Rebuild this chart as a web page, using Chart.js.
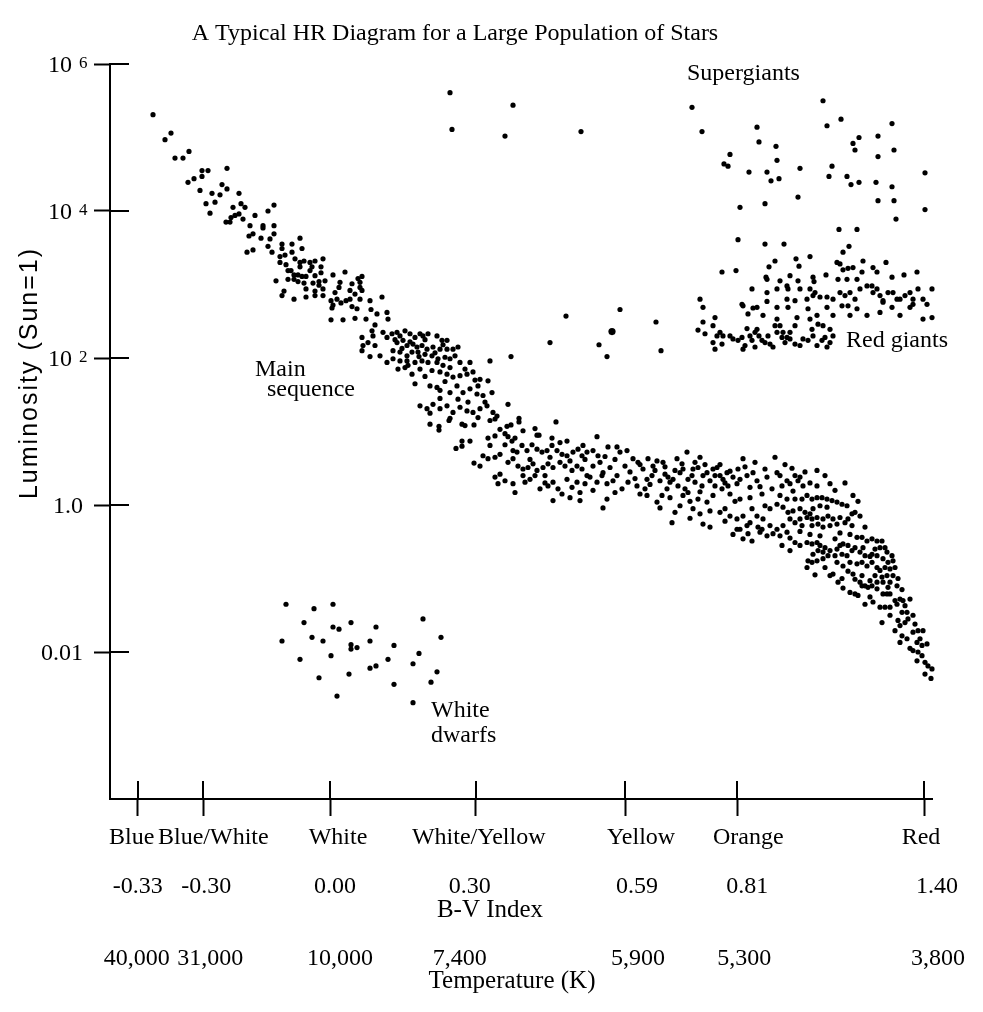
<!DOCTYPE html>
<html>
<head>
<meta charset="utf-8">
<title>HR Diagram</title>
<script src="https://cdn.jsdelivr.net/npm/chart.js@4.4.1/dist/chart.umd.min.js"></script>
<style>
  html, body { margin: 0; padding: 0; background: #fff; }
</style>
</head>
<body>
<canvas id="hrChart" width="983" height="1012"></canvas>
<script>
// Axis ticks: x is the position along the colour axis, y is log10(L / Lsun)
const colourTicks = [2.77, 9.33, 22.0, 36.57, 51.5, 62.73, 81.4];
const colourNames = ['Blue', 'Blue/White', 'White', 'White/Yellow', 'Yellow', 'Orange', 'Red'];
const bvIndex = ['-0.33', '-0.30', '0.00', '0.30', '0.59', '0.81', '1.40'];
const temperatures = ['40,000', '31,000', '10,000', '7,400', '5,900', '5,300', '3,800'];
const lumTicks = [-2, 0, 2, 4, 6];
const lumLabels = ['0.01', '1.0', '10^2', '10^4', '10^6'];

// Stars, [colour position, log10 luminosity]
const mainSequence = [
  [4.3,5.31],[6.1,5.06],[5.5,4.97],[7.9,4.81],[6.5,4.72],[7.3,4.72],[9.2,4.55],[9.8,4.55],[11.7,4.58],[8.4,4.44],
  [9.2,4.47],[7.8,4.39],[11.2,4.36],[11.7,4.30],[9.0,4.28],[10.2,4.24],[11.0,4.22],[12.9,4.24],[9.6,4.10],[13.1,4.10],
  [13.5,4.05],[12.3,4.05],[16.4,4.08],[10.0,3.97],[12.9,3.96],[12.5,3.94],[12.1,3.91],[13.3,3.89],[11.6,3.85],[12.0,3.85],
  [14.5,3.94],[15.8,4.00],[15.3,3.80],[15.3,3.77],[16.4,3.80],[13.9,3.66],[14.3,3.69],[15.1,3.63],[16.4,3.69],[13.7,3.44],
  [14.3,3.47],[15.8,3.52],[16.2,3.44],[17.2,3.55],[17.2,3.49],[18.2,3.55],[19.0,3.63],[19.2,3.49],[18.2,3.44],[17.0,3.38],
  [17.0,3.30],[17.6,3.27],[19.0,3.30],[19.0,3.24],[19.4,3.32],[20.0,3.30],[20.5,3.32],[21.3,3.35],[20.2,3.24],[21.1,3.24],
  [17.8,3.19],[18.1,3.19],[20.0,3.19],[21.1,3.16],[18.4,3.13],[18.8,3.13],[19.2,3.11],[19.6,3.11],[17.8,3.07],[18.4,3.07],
  [18.8,3.04],[19.4,3.02],[20.3,3.02],[20.9,3.04],[20.9,2.99],[16.6,3.05],[19.6,2.94],[20.5,2.91],[21.3,2.94],[17.4,2.91],
  [17.2,2.85],[19.6,2.83],[20.5,2.85],[21.3,2.85],[18.4,2.80],
  [10.5,4.12],[14.0,3.80],[16.0,3.62],[18.5,3.35],[20.5,3.12],[21.5,3.05],[17.5,3.40],
  [22.3,3.13],[23.5,3.17],[24.8,3.08],[25.2,3.11],[25.0,3.03],[23.0,3.03],[22.9,2.96],[24.2,3.01],[22.5,2.89],[24.0,2.92],
  [25.0,2.96],[25.2,2.92],[22.1,2.78],[22.3,2.72],[22.2,2.68],[22.7,2.80],[23.1,2.75],[23.6,2.78],[24.0,2.80],[24.2,2.70],
  [24.5,2.87],[25.0,2.80],[24.7,2.67],[26.0,2.78],[26.1,2.66],[27.2,2.83],[27.7,2.62],[27.8,2.53],[26.7,2.60],[25.6,2.53],
  [24.5,2.54],[23.3,2.52],[22.1,2.52],[26.5,2.45],[26.2,2.37],[27.3,2.35],[25.2,2.28],[25.3,2.17],[25.8,2.21],[26.3,2.30],
  [26.5,2.17],[26.0,2.02],[25.2,2.10],[27.0,2.03],[27.7,1.94],[27.7,2.28],
  [28.2,2.33],[28.7,2.35],[29.0,2.30],[29.5,2.37],[30.0,2.33],[30.5,2.28],[31.0,2.33],[31.3,2.30],[31.8,2.33],[32.7,2.30],
  [33.2,2.24],[33.7,2.24],[28.7,2.21],[29.3,2.24],[29.7,2.17],[30.3,2.19],[30.7,2.15],[31.2,2.17],[31.7,2.12],[32.3,2.15],
  [33.0,2.12],[33.7,2.12],[34.3,2.12],[34.8,2.15],[28.3,2.10],[29.0,2.08],[29.7,2.03],[30.2,2.08],[30.8,2.08],[31.5,2.05],
  [32.2,2.03],[32.8,1.99],[33.5,2.01],[34.0,1.99],[28.3,1.99],[29.0,1.96],[29.7,1.96],[30.5,1.94],[31.2,1.96],[31.8,1.94],
  [32.7,1.94],[33.3,1.90],[34.0,1.87],[35.0,1.94],[36.0,1.94],[38.0,1.96],[28.8,1.85],[29.5,1.87],[30.2,1.78],[31.0,1.85],
  [32.2,1.83],[33.0,1.81],[33.7,1.78],[34.3,1.74],[35.0,1.76],[35.7,1.78],[36.3,1.81],[37.0,1.71],[37.8,1.69],[30.5,1.65],
  [32.0,1.62],[32.7,1.60],[33.0,1.56],[34.0,1.53],[34.7,1.62],[35.3,1.53],[36.0,1.58],[36.7,1.51],[37.3,1.49],[38.2,1.53],
  [31.0,1.35],[31.7,1.31],[32.3,1.37],[33.0,1.31],[33.7,1.35],[34.3,1.26],[35.0,1.33],[35.7,1.28],[36.3,1.26],[37.0,1.31],
  [37.7,1.35],[38.3,1.26],[38.7,1.21],
  [28.5,2.25],[29.2,2.13],[30.0,2.22],[30.9,2.02],[31.5,2.25],[32.5,2.07],[33.3,2.18],[34.5,2.03],[35.5,1.85],[36.5,1.70],
  [29.8,1.90],[31.5,1.75],[33.5,1.68],[34.8,1.44],[35.8,1.40],[33.0,1.45],[36.8,1.62],[37.5,1.40],[32.0,1.25],[34.0,1.18],
  [39.8,1.37],[40.9,1.18],[40.9,1.13],[44.6,1.13],[42.5,1.04],[42.9,0.95],
  [32.0,1.10],[32.9,1.07],[32.9,1.02],[33.9,1.15],[35.2,1.10],[35.5,1.08],[36.4,1.09],[36.8,1.19],[38.0,1.15],[38.5,1.17],
  [39.0,1.03],[39.7,1.07],[40.1,1.09],[37.8,0.91],[38.5,0.94],[39.5,0.97],[39.8,0.93],[40.2,0.87],[40.5,0.91],[41.3,1.01],
  [42.7,0.95],[44.2,0.91],[45.7,0.87],[48.7,0.93],[35.2,0.87],[36.0,0.87],[35.2,0.80],[34.6,0.77],[38.0,0.81],[39.5,0.82],
  [40.3,0.74],[40.7,0.72],[41.2,0.81],[41.7,0.74],[42.2,0.82],[42.7,0.76],[43.2,0.72],[43.7,0.74],[44.2,0.81],[44.7,0.74],
  [45.2,0.69],[45.7,0.67],[46.3,0.72],[46.8,0.76],[47.3,0.81],[47.2,0.67],[47.7,0.72],[48.3,0.74],[48.8,0.67],[49.8,0.79],
  [50.7,0.79],[51.0,0.72],[51.7,0.74],[36.4,0.57],[37.0,0.53],[37.3,0.67],[37.8,0.63],[38.5,0.65],[39.0,0.69],[39.8,0.58],
  [40.3,0.63],[40.8,0.53],[41.3,0.49],[41.8,0.51],[42.3,0.56],[42.7,0.47],[43.3,0.51],[43.8,0.56],[44.3,0.51],[45.0,0.58],
  [45.5,0.53],[46.2,0.47],[46.7,0.53],[47.2,0.49],[47.7,0.40],[48.3,0.53],[49.0,0.58],[49.3,0.44],[50.0,0.51],[50.7,0.40],
  [51.5,0.53],[38.5,0.38],[39.0,0.42],[39.5,0.33],[38.8,0.29],[40.3,0.29],[40.5,0.17],[41.3,0.40],[41.5,0.31],[42.0,0.35],
  [42.5,0.40],[43.0,0.22],[43.5,0.40],[43.8,0.26],[44.3,0.31],[44.8,0.22],[45.2,0.15],[45.7,0.35],[46.2,0.24],[46.7,0.31],
  [47.0,0.17],[47.5,0.29],[48.0,0.38],[48.7,0.31],[49.2,0.40],[49.7,0.29],[50.3,0.33],[50.5,0.17],[51.2,0.22],[51.8,0.31],
  [44.3,0.06],[47.0,0.06],[49.3,-0.04],[49.7,0.08],
  [45.0,0.85],[46.0,0.60],[47.5,0.62],[49.5,0.66],[50.5,0.62],[44.0,0.65],[42.0,0.62],[43.5,0.30],[46.0,0.10],[48.3,0.20],
  [52.3,0.63],[52.8,0.58],[53.3,0.49],[53.7,0.35],[54.2,0.40],[54.3,0.53],[53.8,0.63],[54.7,0.60],[55.3,0.58],[55.5,0.42],
  [55.8,0.38],[56.0,0.31],[56.3,0.35],[56.7,0.63],[56.8,0.26],[57.0,0.44],[57.3,0.49],[57.7,0.72],[57.8,0.35],[58.2,0.40],
  [58.5,0.31],[58.3,0.49],[58.8,0.51],[59.0,0.65],[59.2,0.26],[59.3,0.40],[59.7,0.44],[60.0,0.33],[60.3,0.49],[60.5,0.26],
  [60.7,0.51],[61.0,0.40],[61.2,0.22],[61.3,0.35],[61.7,0.44],[61.8,0.26],[62.0,0.15],[62.3,0.38],[62.7,0.29],[62.8,0.49],
  [63.3,0.63],[63.7,0.40],[64.0,0.24],[64.3,0.44],[64.7,0.33],[57.0,-0.01],[57.3,0.13],[57.8,0.17],[58.3,-0.05],[58.8,0.08],
  [59.3,-0.26],[59.7,0.04],[60.3,0.13],[61.0,-0.10],[61.5,-0.05],[62.0,-0.15],[62.7,-0.19],[63.3,-0.15],[64.0,-0.24],[64.7,-0.15],
  [56.2,-0.24],[55.7,0.22],[55.2,0.13],[54.7,0.04],[53.7,0.13],[52.7,0.26],[53.0,0.15],[55.0,-0.04],[63.3,-0.46],[64.2,-0.49],
  [63.8,-0.39],[63.0,-0.33],[62.7,-0.33],[63.7,-0.28],[64.8,-0.30],
  [52.0,0.45],[52.5,0.36],[53.0,0.55],[53.5,0.22],[54.0,0.28],[54.5,0.47],[55.0,0.33],[55.5,0.52],[56.0,0.10],[56.5,0.47],
  [57.2,0.56],[57.5,0.22],[58.0,0.05],[58.5,0.58],[59.0,0.18],[59.5,0.55],[60.0,-0.08],[60.5,0.40],[61.0,0.55],[61.5,0.30],
  [62.0,0.46],[62.5,0.05],[63.0,0.35],[63.5,0.52],[64.0,0.10],[64.5,0.58],[65.0,0.25],[58.0,-0.18],[60.0,-0.30],[61.5,-0.22],
  [62.3,-0.40],[64.2,-0.05],[59.0,-0.12],[56.5,-0.10],[63.0,0.08],
  [66.5,0.65],[66.7,0.44],[65.5,0.49],[65.7,0.38],[67.0,0.40],[67.2,0.26],[67.7,0.33],[68.0,0.29],[68.5,0.40],[68.8,0.33],
  [69.0,0.38],[69.3,0.26],[68.3,0.19],[67.0,0.13],[67.7,0.08],[68.5,0.08],[69.2,0.08],[69.7,0.13],[70.2,0.08],[70.7,0.10],
  [71.2,0.10],[71.7,0.08],[72.2,0.06],[72.7,0.04],[73.2,0.01],[73.7,-0.01],[74.3,0.13],[74.2,-0.12],[74.5,-0.10],[70.7,0.47],
  [70.7,0.26],[72.0,0.29],[71.7,-0.03],[71.0,-0.01],[70.3,-0.05],[70.0,-0.12],[69.5,-0.10],[69.0,-0.05],[68.3,-0.08],[67.8,-0.10],
  [67.3,-0.03],[66.7,0.01],[66.0,-0.05],[65.5,-0.01],[65.3,-0.19],[66.0,-0.28],[66.7,-0.33],[67.3,-0.28],[68.0,-0.19],[68.5,-0.24],
  [69.0,-0.19],[69.7,-0.17],[70.2,-0.19],[70.7,-0.17],[71.3,-0.19],[71.8,-0.15],[72.3,-0.19],[73.0,-0.17],[73.5,-0.24],[73.8,-0.19],
  [74.2,-0.28],[72.7,-0.26],[72.0,-0.28],[71.3,-0.30],[70.8,-0.26],[70.2,-0.28],[69.2,-0.28],[66.3,-0.39],[67.0,-0.42],[67.7,-0.37],
  [67.2,-0.55],[68.0,-0.62],[68.5,-0.51],[69.0,-0.55],[65.0,-0.37],[65.7,-0.42],[65.2,-0.33],
  [65.2,0.15],[66.2,0.22],[67.5,0.55],[68.2,0.50],[69.5,0.45],[70.0,0.30],[71.5,0.40],[72.5,0.20],[73.5,0.30],[74.8,0.05],
  [75.0,-0.15],[75.5,-0.30],[74.0,-0.40],[73.0,-0.38],[71.0,-0.42],[70.0,-0.40],[69.0,-0.36],[68.0,-0.45],
  [69.7,-0.51],[70.2,-0.53],[70.7,-0.51],[71.0,-0.55],[71.5,-0.58],[72.0,-0.62],[72.5,-0.46],[72.7,-0.60],[73.0,-0.55],[73.3,-0.53],
  [73.8,-0.55],[74.2,-0.62],[74.5,-0.58],[75.0,-0.64],[75.3,-0.58],[75.7,-0.49],[76.2,-0.46],[76.7,-0.49],[77.2,-0.49],[77.0,-0.58],
  [77.5,-0.58],[77.7,-0.64],[78.2,-0.69],[75.2,-0.44],[74.7,-0.44],[75.5,-0.69],[76.2,-0.67],[76.7,-0.69],[77.3,-0.73],[77.8,-0.78],
  [78.3,-0.76],[73.7,-0.69],[73.2,-0.67],[72.5,-0.69],[71.8,-0.69],[71.3,-0.64],[70.8,-0.62],[70.3,-0.67],[69.8,-0.76],[70.2,-0.78],
  [70.7,-0.76],[71.3,-0.73],[72.7,-0.78],[73.3,-0.83],[74.0,-0.78],[74.7,-0.80],[75.2,-0.78],[75.7,-0.83],[76.2,-0.78],[76.7,-0.85],
  [77.0,-0.89],[77.5,-0.85],[78.0,-0.87],[78.3,-0.96],[77.7,-0.96],[77.2,-0.98],[76.5,-0.96],[76.0,-1.03],[76.7,-1.05],[77.3,-1.05],
  [78.0,-1.05],[78.7,-1.10],[69.7,-0.85],[72.3,-0.94],[72.0,-0.96],[73.2,-1.00],[74.3,-0.94],[74.5,-1.01],[75.2,-0.96],[75.2,-1.10],
  [75.5,-1.10],[75.8,-1.12],[76.2,-1.10],[76.7,-1.14],[77.3,-1.21],[77.7,-1.21],[78.0,-1.21],[73.3,-1.13],[74.0,-1.19],[74.5,-1.21],
  [74.8,-1.23],[75.5,-1.35],[76.3,-1.32],[77.0,-1.39],[77.5,-1.39],[78.0,-1.39],[78.5,-1.30],[78.7,-1.35],[79.0,-1.28],[79.3,-1.30],
  [79.5,-1.37],[80.0,-1.28],[79.2,-1.46],[79.7,-1.46],[77.2,-1.60],[78.5,-1.71],[78.8,-1.57],[79.0,-1.64],[79.8,-1.55],[79.2,-1.78],
  [79.7,-1.82],[80.3,-1.73],[80.8,-1.71],[81.3,-1.71],[80.7,-1.87],[81.2,-1.91],[81.7,-1.89],[80.3,-1.98],[80.8,-2.00],[80.7,-2.12],
  [81.2,-2.05],[81.5,-2.14],[81.8,-2.19],[82.2,-2.23],[82.1,-2.36],[79.0,-1.87],[81.0,-1.82],
  [76.0,-0.70],[76.5,-0.60],[78.5,-0.85],[78.8,-1.00],[79.2,-1.15],[77.8,-1.12],[76.0,-1.25],[75.0,-1.05],[73.8,-0.90],[72.8,-1.05],
  [71.5,-0.85],[70.5,-0.95],[79.5,-1.60],[80.3,-1.50],[80.0,-1.95],[81.5,-2.30],[80.5,-1.62],[78.0,-1.50]
];

const subgiants = [
  [45.6,2.57],[51.0,2.66],[54.6,2.49],[48.9,2.18],[55.1,2.10],[49.7,2.02],[44.0,2.21],[40.1,2.02]
];
const brightSubgiant = [[50.2,2.36]];

const redGiants = [
  [61.2,3.17],[62.6,3.19],[66.5,3.32],[68.6,3.35],[70.0,3.38],[68.9,3.25],[65.9,3.24],[65.6,3.10],[65.7,3.07],[67.0,3.05],
  [66.7,2.94],[67.7,2.98],[67.8,2.94],[68.0,3.12],[68.8,3.05],[69.0,2.94],[70.3,3.10],[70.4,3.04],[71.6,3.13],[72.7,3.30],
  [73.0,3.28],[73.3,3.20],[73.8,3.22],[74.3,3.23],[75.3,3.32],[76.3,3.23],[77.6,3.30],[72.8,3.07],[73.7,3.07],[74.7,3.07],
  [75.2,3.17],[76.7,3.17],[78.2,3.10],[79.4,3.13],[80.7,3.17],[82.5,3.10],[83.9,2.96],[64.2,2.94],[59.0,2.80],[59.3,2.69],
  [63.2,2.73],[63.3,2.71],[64.7,2.69],[63.8,2.60],[64.3,2.68],[65.7,2.89],[65.7,2.77],[66.7,2.69],[67.7,2.80],[67.8,2.69],
  [65.3,2.58],[66.7,2.53],[68.5,2.78],[68.7,2.55],[68.5,2.44],[69.7,2.80],[69.8,2.67],[70.0,2.53],[70.7,2.58],[70.5,2.89],
  [70.0,2.94],[70.3,2.85],[71.0,2.83],[71.7,2.83],[72.3,2.80],[73.0,2.89],[73.5,2.85],[74.0,2.89],[74.5,2.80],[75.0,2.94],
  [75.7,2.98],[76.2,2.98],[76.3,2.89],[76.7,2.94],[77.0,2.85],[77.3,2.78],[77.8,2.89],[78.3,2.89],[78.7,2.80],[79.0,2.80],
  [79.5,2.85],[80.0,2.89],[80.3,2.80],[80.8,2.94],[81.3,2.80],[81.7,2.73],[82.2,2.94],[83.3,2.87],[83.5,2.71],[84.0,2.96],
  [82.2,2.55],[81.3,2.53],[71.7,2.69],[72.3,2.58],[73.2,2.71],[73.8,2.71],[74.0,2.58],[74.7,2.67],[75.7,2.58],[77.0,2.62],
  [77.3,2.76],[78.2,2.69],[79.0,2.58],[80.0,2.69],[80.3,2.73],
  [58.8,2.38],[59.5,2.33],[59.3,2.49],[60.3,2.44],[60.5,2.55],[60.3,2.21],[60.7,2.30],[61.0,2.35],[61.3,2.30],[61.2,2.19],
  [62.0,2.30],[62.3,2.26],[62.8,2.24],[63.2,2.28],[63.5,2.17],[63.7,2.40],[64.0,2.30],[64.2,2.24],[64.5,2.35],[64.7,2.39],
  [64.9,2.30],[65.2,2.24],[65.5,2.21],[65.8,2.30],[66.0,2.19],[66.5,2.44],[66.7,2.35],[67.0,2.44],[67.2,2.28],[67.3,2.35],
  [67.5,2.21],[67.7,2.28],[68.0,2.35],[68.5,2.19],[69.0,2.17],[69.3,2.26],[69.8,2.24],[70.2,2.39],[70.3,2.30],[70.7,2.17],
  [71.2,2.24],[71.5,2.28],[71.7,2.15],[72.0,2.21],[72.3,2.30],[70.8,2.46],[71.3,2.44],[72.0,2.39],[60.5,2.12],[63.3,2.12],
  [64.5,2.15],[66.3,2.15],[68.0,2.26]
];

const supergiants = [
  [34.0,5.61],[34.2,5.11],[40.3,5.44],[39.5,5.02],[47.1,5.08],[58.2,5.41],[59.2,5.08],[64.7,5.14],[64.9,4.94],[66.6,4.88],
  [62.0,4.77],[66.7,4.69],[61.4,4.64],[61.8,4.61],[63.9,4.53],[65.7,4.53],[66.1,4.41],[66.9,4.44],[69.0,4.58],[68.8,4.19],
  [65.5,4.10],[63.0,4.05],[71.3,5.50],[71.7,5.16],[73.1,5.25],[74.3,4.92],[74.5,4.83],[74.9,5.00],[72.2,4.61],[71.9,4.47],
  [73.7,4.47],[74.1,4.36],[74.9,4.39],[76.8,5.02],[76.8,4.74],[78.2,5.19],[78.4,4.83],[76.6,4.39],[78.2,4.33],[76.8,4.14],
  [78.4,4.14],[78.6,3.89],[81.5,4.52],[81.5,4.02],[84.2,4.61],[84.5,4.27],[72.9,3.75],[74.7,3.75],[73.9,3.52],[73.3,3.44],
  [62.8,3.61],[65.5,3.55],[67.4,3.55]
];

const whiteDwarfs = [
  [17.6,-1.35],[20.4,-1.41],[22.3,-1.35],[19.4,-1.60],[22.3,-1.66],[22.9,-1.69],[24.1,-1.60],[26.6,-1.66],[31.3,-1.55],[17.2,-1.85],
  [20.2,-1.80],[21.3,-1.85],[24.1,-1.90],[24.1,-1.96],[24.7,-1.94],[26.0,-1.85],[28.4,-1.91],[33.1,-1.80],[19.0,-2.10],[22.1,-2.05],
  [27.8,-2.10],[26.0,-2.22],[26.6,-2.19],[30.3,-2.16],[30.9,-2.02],[32.7,-2.27],[20.9,-2.35],[23.9,-2.30],[28.4,-2.44],[32.1,-2.41],
  [22.7,-2.60],[30.3,-2.69]
];

// Text labels anchored in data space
const annotations = [
  ['Supergiants', 57.7, 5.78],
  ['Red giants', 73.6, 2.15],
  ['Main', 14.5, 1.76],
  ['sequence', 15.7, 1.48],
  ['White', 32.1, -2.88],
  ['dwarfs', 32.1, -3.22]
];

const chartTitle = 'A Typical HR Diagram for a Large Population of Stars';
const serif = '"Liberation Serif", "Times New Roman", Times, serif';
const sans = '"Liberation Sans", Arial, Helvetica, sans-serif';

// small nudges of the label rows relative to their tick (px), as laid out in the original
const colourNudge = [-6, 10, 8, 3, 16, 11, -3];
const bvNudge = [0, 3, 5, -6, 12, 10, 13];
const tempNudge = [-1, 7, 10, -16, 13, 7, 14];

function toPoints(list) {
  return list.map(([x, y]) => ({ x: x, y: y }));
}

// Texte, demi-graduations internes et titres
const hrText = {
  id: 'hrText',
  afterDraw(chart) {
    const ctx = chart.ctx;
    const area = chart.chartArea;
    const xs = chart.scales.x;
    const ys = chart.scales.y;
    ctx.save();

    // inner half of the tick marks (the outer half is drawn by the axes)
    ctx.strokeStyle = '#000';
    ctx.lineWidth = 2;
    ctx.beginPath();
    xs.ticks.forEach(t => {
      const px = Math.round(xs.getPixelForValue(t.value));
      ctx.moveTo(px, area.bottom);
      ctx.lineTo(px, area.bottom - 18);
    });
    ys.ticks.forEach(t => {
      const py = Math.round(ys.getPixelForValue(t.value));
      ctx.moveTo(area.left, py);
      ctx.lineTo(area.left + 19, py);
    });
    ctx.stroke();

    ctx.fillStyle = '#000';
    ctx.textBaseline = 'alphabetic';

    // title
    ctx.font = '24px ' + serif;
    ctx.textAlign = 'center';
    ctx.fillText(chartTitle, 455, 40);

    // y tick labels, powers of ten with a raised exponent
    ys.ticks.forEach((t, i) => {
      const py = ys.getPixelForValue(t.value);
      const parts = lumLabels[i].split('^');
      ctx.font = '24px ' + serif;
      if (parts.length > 1) {
        ctx.textAlign = 'right';
        ctx.fillText(parts[0], area.left - 38, py + 8);
        ctx.font = '17px ' + serif;
        ctx.textAlign = 'left';
        ctx.fillText(parts[1], area.left - 31, py + 4);
      } else {
        ctx.textAlign = 'right';
        ctx.fillText(parts[0], area.left - 27, py + 8);
      }
    });

    // x label rows
    ctx.font = '24px ' + serif;
    ctx.textAlign = 'center';
    colourTicks.forEach((v, i) => {
      const px = xs.getPixelForValue(v);
      ctx.fillText(colourNames[i], px + colourNudge[i], area.bottom + 45);
      ctx.fillText(bvIndex[i], px + bvNudge[i], area.bottom + 94);
      ctx.fillText(temperatures[i], px + tempNudge[i], area.bottom + 166);
    });
    const mid = (area.left + area.right) / 2;
    ctx.font = '25px ' + serif;
    ctx.fillText('B-V Index', mid - 31, area.bottom + 118);
    ctx.fillText('Temperature (K)', mid - 9, area.bottom + 189);

    // region annotations
    ctx.font = '24px ' + serif;
    ctx.textAlign = 'left';
    annotations.forEach(([text, vx, vy]) => {
      ctx.fillText(text, xs.getPixelForValue(vx), ys.getPixelForValue(vy));
    });

    // y axis title
    ctx.translate(30, 373);
    ctx.rotate(-Math.PI / 2);
    ctx.font = '25px ' + sans;
    ctx.letterSpacing = '2px';
    ctx.textAlign = 'center';
    ctx.textBaseline = 'middle';
    ctx.fillText('Luminosity (Sun=1)', 0, 0);

    ctx.restore();
  }
};

const dotStyle = {
  backgroundColor: '#000',
  borderWidth: 0,
  pointRadius: 2.6,
  pointHoverRadius: 2.6,
  clip: false
};

const hrChart = new Chart(document.getElementById('hrChart'), {
  type: 'scatter',
  data: {
    datasets: [
      Object.assign({ label: 'Main sequence', data: toPoints(mainSequence) }, dotStyle),
      Object.assign({ label: 'Subgiants', data: toPoints(subgiants) }, dotStyle),
      Object.assign({ label: 'Bright subgiant', data: toPoints(brightSubgiant) }, dotStyle, { pointRadius: 3.6 }),
      Object.assign({ label: 'Red giants', data: toPoints(redGiants) }, dotStyle),
      Object.assign({ label: 'Supergiants', data: toPoints(supergiants) }, dotStyle),
      Object.assign({ label: 'White dwarfs', data: toPoints(whiteDwarfs) }, dotStyle)
    ]
  },
  options: {
    responsive: false,
    animation: false,
    layout: { padding: { top: 64, right: 51, bottom: 0, left: 0 } },
    plugins: {
      legend: { display: false },
      title: { display: false },
      tooltip: { enabled: false }
    },
    scales: {
      x: {
        type: 'linear',
        min: 0,
        max: 82.2,
        afterBuildTicks: s => { s.ticks = colourTicks.map(v => ({ value: v })); },
        afterFit: s => { s.height = 213; },
        ticks: { display: false },
        grid: { drawOnChartArea: false, drawTicks: true, tickLength: 17, tickWidth: 2, tickColor: '#000' },
        border: { display: true, color: '#000', width: 2 }
      },
      y: {
        type: 'linear',
        min: -4,
        max: 6,
        afterBuildTicks: s => { s.ticks = lumTicks.map(v => ({ value: v })); },
        afterFit: s => { s.width = 110; },
        ticks: { display: false },
        grid: { drawOnChartArea: false, drawTicks: true, tickLength: 16, tickWidth: 2, tickColor: '#000' },
        border: { display: true, color: '#000', width: 2 }
      }
    }
  },
  plugins: [hrText]
});
</script>
</body>
</html>
